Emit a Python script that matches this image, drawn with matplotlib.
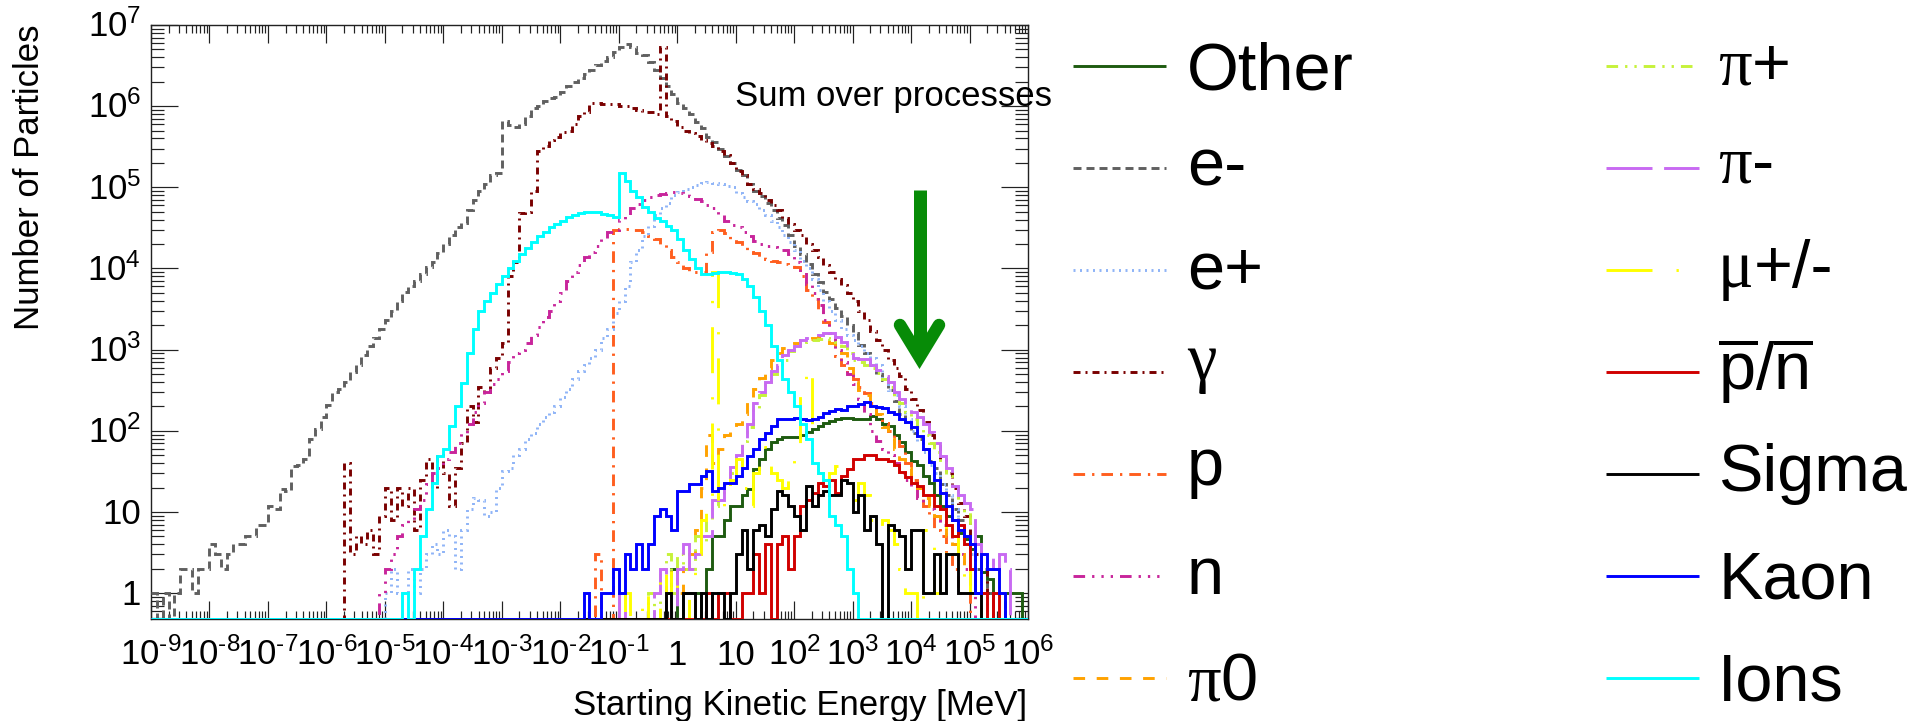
import numpy as np
import matplotlib
matplotlib.use("Agg")
import matplotlib.pyplot as plt
from matplotlib.font_manager import FontProperties
from matplotlib.textpath import TextPath
from matplotlib.ticker import FixedLocator, NullFormatter
from matplotlib.transforms import ScaledTranslation

plt.rcParams["font.family"] = ["Liberation Sans", "DejaVu Sans"]
plt.rcParams["mathtext.fontset"] = "custom"
plt.rcParams["mathtext.rm"] = "Liberation Sans"
plt.rcParams["mathtext.it"] = "Liberation Sans:italic"
plt.rcParams["mathtext.bf"] = "Liberation Sans:bold"
plt.rcParams["mathtext.sf"] = "Liberation Sans"
plt.rcParams["lines.scale_dashes"] = False

# ---------------------------------------------------------------- binning
# 10 logarithmic bins per decade, 1e-9 .. 1e6 MeV
LOG_EMIN, LOG_EMAX, BINS_PER_DECADE = -9, 6, 10
edges = np.logspace(LOG_EMIN, LOG_EMAX, (LOG_EMAX - LOG_EMIN) * BINS_PER_DECADE + 1)
YMIN, YMAX = 0.48, 1e7

# ---------------------------------------------------------------- counts
# each list starts at the bin whose lower edge is 10**<name>_first
other_first = -0.2
other_counts = [1, 2, 0, 1, 1, 1, 0, 2, 5, 5, 8, 12, 12, 16, 19, 34, 45, 59, 72, 79,
                83, 83, 85, 88, 96, 105, 115, 126, 132, 138, 145, 145, 140, 138, 138, 152, 138, 120, 115, 88,
                72, 55, 42, 38, 28, 23, 16, 12, 9, 8, 5.5, 4.6, 3.5, 5, 1.8, 1.5, 0, 0, 1, 1, 1]

eminus_first = -9.0
eminus_counts = [1, 0, 1, 0, 1, 2, 2, 1, 2, 2, 4, 3, 2, 3, 4, 4, 5, 5, 7, 7,
                 12, 11, 19, 18, 37, 38, 45, 80, 105, 150, 210, 300, 330, 400, 530, 640, 850, 1100, 1400, 1800,
                 2300, 3000, 4000, 5200, 6000, 7000, 8500, 10500, 12000, 15500, 20000, 26000, 32000, 36000, 52000,
                 70000, 90000, 110000, 140000, 150000,
                 650000, 580000, 560000, 600000, 750000, 950000, 1000000, 1150000, 1250000, 1300000,
                 1500000, 1750000, 2000000, 2200000, 2500000, 2800000, 3200000, 3600000, 4000000, 4600000,
                 5400000, 5800000, 5400000, 4500000, 4300000, 3500000, 2800000, 2200000, 1750000, 1400000,
                 1100000, 950000, 800000, 640000, 540000, 420000, 360000, 300000, 240000, 200000,
                 165000, 140000, 110000, 90000, 78000, 65000, 52000, 42000, 34000, 26000,
                 19000, 15000, 11500, 8500, 6800, 5200, 4200, 3300, 2600, 2000,
                 1600, 1150, 900, 650, 500, 420, 320, 230, 160, 125,
                 95, 80, 60, 42, 35, 22, 16, 11, 8, 5, 4, 2, 2, 1]

eplus_first = -5.0
eplus_counts = [1, 2, 1, 1, 2, 1, 2, 3, 4, 3, 6, 5, 2, 6, 11, 15, 14, 9, 10, 20,
                32, 35, 50, 60, 80, 95, 120, 150, 170, 200, 260, 330, 430, 550, 650, 800, 1000, 1400, 1800, 2800,
                4000, 6000, 12000, 17000, 25000, 33000, 45000, 55000, 65000, 80000,
                88000, 95000, 102000, 108000, 112000, 115000, 114000, 110000, 105000, 100000,
                85000, 75000, 68000, 62000, 52000, 45000, 38000, 32000, 26000, 21000,
                17000, 12500, 10000, 7500, 5500, 4000, 3000, 2300, 1800, 1500,
                1300, 1100, 900, 800, 650, 450, 320, 280, 200, 140,
                100, 75, 55, 38, 30, 22, 16, 11, 7, 5, 3, 2, 1]

gamma_first = -5.7
gamma_counts = [40, 3, 5, 4, 6, 3, 9, 20, 8, 20, 12, 20, 6, 25, 45, 20, 50, 30, 12, 35,
                70, 200, 130, 350, 300, 600, 800, 1200, 8000, 12000,
                48000, 50000, 89000, 280000, 320000, 380000, 420000, 480000, 500000, 600000,
                750000, 850000, 1100000, 1100000, 1050000, 1050000, 1050000, 1000000, 1000000, 950000,
                900000, 850000, 850000, 800000, 5400000, 750000, 650000, 560000, 500000, 470000,
                430000, 380000, 350000, 320000, 280000, 250000, 200000, 160000, 140000, 110000,
                95000, 85000, 70000, 60000, 52000, 42000, 35000, 30000, 26000, 20000,
                17000, 14000, 11000, 9000, 7500, 6200, 5000, 4000, 3000, 2300,
                1700, 1300, 1000, 750, 600, 480, 330, 250, 180, 130,
                90, 65, 45, 30, 20, 13, 9, 5, 3, 2, 1]

proton_first = -1.4
proton_counts = [3, 0, 0, 30000, 31000, 31000, 30000, 30000, 28000, 25000,
                 23000, 20000, 17000, 14000, 12000, 10000, 9000, 9000, 9000, 16000,
                 28000, 30000, 27000, 23000, 21000, 19000, 16000, 15500, 14000, 13000,
                 12500, 12000, 11500, 11000, 10500, 8100, 5500, 4200, 3200, 2200,
                 1600, 830, 650, 500, 430, 350, 295, 220, 160, 125,
                 100, 80, 65, 40, 25, 18, 12, 9, 6, 5, 3, 2, 1, 1]

neutron_first = -5.1
neutron_counts = [1, 2, 3, 5, 7, 8, 11, 14, 22, 30, 35, 45, 55, 70, 95, 120, 170, 220, 300, 380,
                  430, 550, 700, 900, 1000, 1200, 1500, 1900, 2500, 3000,
                  4000, 5000, 7000, 9000, 11000, 14000, 16000, 19000, 24000, 28000,
                  30000, 40000, 45000, 55000, 62000, 70000, 75000, 80000, 82000, 85000,
                  87000, 86000, 82000, 78000, 72000, 68000, 60000, 55000, 45000, 38000,
                  34000, 32000, 28000, 25000, 22000, 20000, 19000, 18500, 18000, 17000,
                  15000, 12000, 9000, 6500, 5000, 3500, 2300, 1600, 1000, 700,
                  500, 380, 250, 160, 100, 75, 60, 50, 40, 30,
                  25, 20, 15, 13, 11, 9, 7, 5, 4, 3, 2, 1]

pi0_first = -0.2
pi0_counts = [1, 2, 1, 2, 3, 6, 20, 90, 40, 60, 90, 100, 120, 160, 230, 330, 450, 600, 750, 900,
              1050, 1150, 1200, 1300, 1350, 1400, 1450, 1350, 1200, 1100,
              900, 600, 400, 320, 280, 200, 160, 110, 80, 60,
              45, 35, 25, 20, 15, 12, 9, 7, 5, 4, 3, 2, 2, 1]

piplus_first = -0.5
piplus_counts = [1, 0, 2, 3, 1, 3, 2, 2, 5, 4, 8, 12, 16, 22, 30, 45, 75, 110, 190, 280,
                 380, 500, 600, 750, 950, 1050, 1150, 1250, 1300, 1350,
                 1400, 1350, 1250, 1100, 900, 750, 700, 650, 600, 520,
                 430, 350, 270, 220, 170, 140, 110, 90, 70, 55,
                 40, 28, 19, 14, 10, 7, 4, 3, 2, 2, 1]

piminus_first = -1.0
piminus_counts = [1, 0, 0, 0, 0, 0, 1, 2, 1, 0, 2, 4, 2, 3, 5, 5, 14, 14, 25, 36,
                  50, 80, 120, 220, 300, 400, 550, 650, 850, 1000,
                  1100, 1300, 1400, 1450, 1500, 1600, 1600, 1450, 1250, 1000,
                  800, 760, 760, 650, 560, 470, 400, 300, 245, 200,
                  170, 150, 120, 96, 70, 49, 35, 21, 16, 13,
                  11, 4, 3, 3, 2, 3, 2]

muon_first = -0.9
muon_counts = [1, 0, 0, 1, 0, 0, 2, 1, 2, 1, 1, 0, 3, 8, 12, 9000, 10, 15, 25, 45,
               20, 12, 30, 64, 45, 30, 25, 20, 25, 60, 300, 600, 40, 30, 25, 30, 37, 31, 20, 14,
               23, 16, 8, 6, 8, 6, 4, 2, 1, 1, 0, 6, 4, 1, 2, 7, 5, 3, 1, 2, 1]

antinucleon_first = 0.5
antinucleon_counts = [1, 0, 1, 1, 0, 0, 1, 1, 3, 1, 4, 0, 4, 5, 2, 5, 12, 14, 17, 23,
                      21, 25, 17, 28, 34, 45, 45, 50, 50, 45, 45, 42, 38, 31, 27, 23, 21, 16, 16, 12,
                      11, 7, 5, 7, 4, 2, 1, 1, 0, 1]

sigma_first = -0.2
sigma_counts = [1, 0, 0, 1, 1, 0, 1, 0, 1, 1, 0, 1, 3, 6, 2, 6, 7, 5, 11, 18,
                16, 12, 9, 6, 21, 12, 16, 18, 16, 16, 25, 23, 10, 16, 6, 9, 4, 0, 7, 6,
                5, 2, 6, 6, 1, 1, 3, 1, 3, 3, 1, 1, 1, 1]

kaon_first = -1.6
kaon_counts = [1, 0, 0, 1, 1, 2, 1, 3, 2, 4, 2, 4, 9, 11, 9, 6, 18, 18, 22, 22,
               28, 32, 18, 20, 23, 23, 28, 35, 49, 59, 79, 95, 115, 138, 140, 138, 145, 140, 135, 140,
               150, 165, 175, 185, 180, 200, 205, 215, 225, 200, 195, 190, 170, 160, 140, 130, 110, 87, 59, 41,
               25, 17, 12, 8, 6, 5, 4, 1, 3, 2, 2, 1]

ions_first = -4.7
ions_counts = [1, 0, 2, 5, 11, 23, 49, 60, 115, 200, 390, 900, 1800, 3000, 4000, 5000, 6500, 8000, 10000, 12500,
               15000, 18000, 21000, 25000, 28000, 32000, 35000, 39000, 43000, 46000,
               48000, 50000, 50000, 49000, 47000, 45000, 43000, 150000, 118000, 90000,
               75000, 58000, 50000, 42000, 38000, 33000, 30000, 23000, 17000, 13000,
               10000, 8500, 8500, 8800, 9000, 9000, 8800, 8500, 7500, 6000,
               4500, 3000, 2000, 1100, 750, 430, 300, 200, 120, 80,
               40, 30, 25, 9, 7, 5, 2, 1]


def to_bins(first, counts):
    h = np.zeros(len(edges) - 1)
    i0 = int(round((first - LOG_EMIN) * BINS_PER_DECADE))
    h[i0:i0 + len(counts)] = counts
    return h


PX = 72.0 / 100.0          # points per output pixel
LW = 2.1

SERIF = ["Liberation Serif", "DejaVu Serif"]
SANS = ["Liberation Sans", "DejaVu Sans"]

# (legend pieces, first bin, counts, colour, dash pattern in pixels or None)
series = [
    ([("Other", SANS)], other_first, other_counts, "#1e5b10", None),
    ([("e-", SANS)], eminus_first, eminus_counts, "#606060", (8, 5)),
    ([("e+", SANS)], eplus_first, eplus_counts, "#8fb4f7", (2, 4.5)),
    ([("\u03b3", SERIF)], gamma_first, gamma_counts, "#7a0000", (7, 5, 2, 5)),
    ([("p", SANS)], proton_first, proton_counts, "#ff5f1f", (11.6, 7, 2.3, 7)),
    ([("n", SANS)], neutron_first, neutron_counts, "#c8259b", (11.6, 7, 2.3, 7, 2.3, 7, 2.3, 7)),
    ([("\u03c0", SERIF), ("0", SANS)], pi0_first, pi0_counts, "#ffa200", (11.6, 11.6)),
    ([("\u03c0", SERIF), ("+", SANS)], piplus_first, piplus_counts, "#c6f23a", (11.6, 7, 2.3, 7, 2.3, 7)),
    ([("\u03c0", SERIF), ("-", SANS)], piminus_first, piminus_counts, "#c86af2", (46, 11.6)),
    ([("\u03bc", SERIF), ("+/-", SANS)], muon_first, muon_counts, "#ffff00", (46, 24, 2.3, 24)),
    ([(r"$\overline{\mathrm{p}}/\overline{\mathrm{n}}$", SANS)], antinucleon_first, antinucleon_counts,
     "#d00000", None),
    ([("Sigma", SANS)], sigma_first, sigma_counts, "#000000", None),
    ([("Kaon", SANS)], kaon_first, kaon_counts, "#0000ff", None),
    ([("Ions", SANS)], ions_first, ions_counts, "#00ffff", None),
]


def style_of(dash):
    if dash is None:
        return "-"
    return (0, tuple(d * PX for d in dash))


# ---------------------------------------------------------------- figure
W, H, DPI = 1927, 721, 100
fig = plt.figure(figsize=(W / DPI, H / DPI), dpi=DPI)
ax = fig.add_axes([151 / W, 1 - 619 / H, (1028 - 151) / W, (619 - 25) / H])
ax.set_xscale("log")
ax.set_yscale("log")
ax.set_xlim(10.0 ** LOG_EMIN, 10.0 ** LOG_EMAX)
ax.set_ylim(YMIN, YMAX)

for pieces, first, counts, color, dash in series:
    h = to_bins(first, counts)
    ax.stairs(np.where(h > 0, h, YMIN), edges, baseline=None, color=color,
              linewidth=LW, linestyle=style_of(dash), zorder=3)

# ticks on all four sides, pointing inwards
xmaj = 10.0 ** np.arange(LOG_EMIN, LOG_EMAX + 1)
xmin = [m * 10.0 ** e for e in range(LOG_EMIN, LOG_EMAX) for m in range(2, 10)]
ymaj = 10.0 ** np.arange(0, 8)
ymin_t = [m * 10.0 ** e for e in range(-1, 7) for m in range(2, 10) if m * 10.0 ** e >= YMIN]
ax.xaxis.set_major_locator(FixedLocator(xmaj))
ax.xaxis.set_minor_locator(FixedLocator(xmin))
ax.yaxis.set_major_locator(FixedLocator(ymaj))
ax.yaxis.set_minor_locator(FixedLocator(ymin_t))
for a in (ax.xaxis, ax.yaxis):
    a.set_major_formatter(NullFormatter())
    a.set_minor_formatter(NullFormatter())
tick_col = "#222222"
ax.tick_params(axis="x", which="major", direction="in", length=18 * PX, width=1.2 * PX,
               top=True, bottom=True, color=tick_col)
ax.tick_params(axis="x", which="minor", direction="in", length=8.3 * PX, width=1.2 * PX,
               top=True, bottom=True, color=tick_col)
ax.tick_params(axis="y", which="major", direction="in", length=27 * PX, width=1.2 * PX,
               left=True, right=True, color=tick_col)
ax.tick_params(axis="y", which="minor", direction="in", length=13 * PX, width=1.2 * PX,
               left=True, right=True, color=tick_col)
for sp in ax.spines.values():
    sp.set_linewidth(1.4 * PX)
    sp.set_color("#222222")


def decade_label(e):
    if e == 0:
        return "1"
    if e == 1:
        return "10"
    if e < 0:
        return r"$10^{\text{-}%d}$" % (-e)
    return r"$10^{%d}$" % e


TICK_FS = 25
xlab_tr = ax.get_xaxis_transform() + ScaledTranslation(0, -46 / DPI, fig.dpi_scale_trans)
for e in range(LOG_EMIN, LOG_EMAX + 1):
    ax.text(10.0 ** e, 0, decade_label(e), transform=xlab_tr, ha="center", va="baseline",
            fontsize=TICK_FS)
ylab_tr = ax.get_yaxis_transform() + ScaledTranslation(-10 / DPI, -12 / DPI, fig.dpi_scale_trans)
for e in range(0, 8):
    ax.text(0, 10.0 ** e, decade_label(e), transform=ylab_tr, ha="right", va="baseline",
            fontsize=TICK_FS)

# ---------------------------------------------------------------- overlay in pixel units
ov = fig.add_axes([0, 0, 1, 1], zorder=5)
ov.set_xlim(0, W)
ov.set_ylim(H, 0)
ov.axis("off")
ov.patch.set_visible(False)

TITLE_FS = 25
ov.text(39, 25, "Number of Particles", rotation=90, rotation_mode="anchor",
        ha="right", va="baseline", fontsize=TITLE_FS)
ov.text(1027, 715, "Starting Kinetic Energy [MeV]", ha="right", va="baseline", fontsize=TITLE_FS)
ov.text(735, 106, "Sum over processes", ha="left", va="baseline", fontsize=TITLE_FS)

# green marker arrow
ARROW = "#078b07"
ov.plot([919.5, 919.5], [190, 352], color=ARROW, lw=13 * PX, solid_capstyle="butt")
ov.plot([900, 919.5, 939], [325, 357, 325], color=ARROW, lw=12.5 * PX,
        solid_capstyle="round", solid_joinstyle="miter")

# legend, two columns of seven
LEG_FS = 48
LEG_PX = LEG_FS / PX
renderer = fig.canvas.get_renderer()
columns = [(1073, 1166, 1187), (1606, 1699, 1718)]
row_y = [66 + 102.0 * k for k in range(7)]
for idx, (pieces, first, counts, color, dash) in enumerate(series):
    x0, x1, xt = columns[idx // 7]
    y = row_y[idx % 7]
    ov.plot([x0, x1], [y, y], color=color, lw=LW, linestyle=style_of(dash),
            solid_capstyle="butt", dash_capstyle="butt")
    lo, hi = np.inf, -np.inf
    for s, fam in pieces:
        ext = TextPath((0, 0), s, size=LEG_PX, prop=FontProperties(family=fam)).get_extents()
        lo, hi = min(lo, ext.y0), max(hi, ext.y1)
    base = y + (lo + hi) / 2
    x = xt
    for s, fam in pieces:
        t = ov.text(x, base, s, fontsize=LEG_FS, family=fam, ha="left", va="baseline")
        x = t.get_window_extent(renderer=renderer).x1

fig.savefig("out.png", dpi=DPI)
